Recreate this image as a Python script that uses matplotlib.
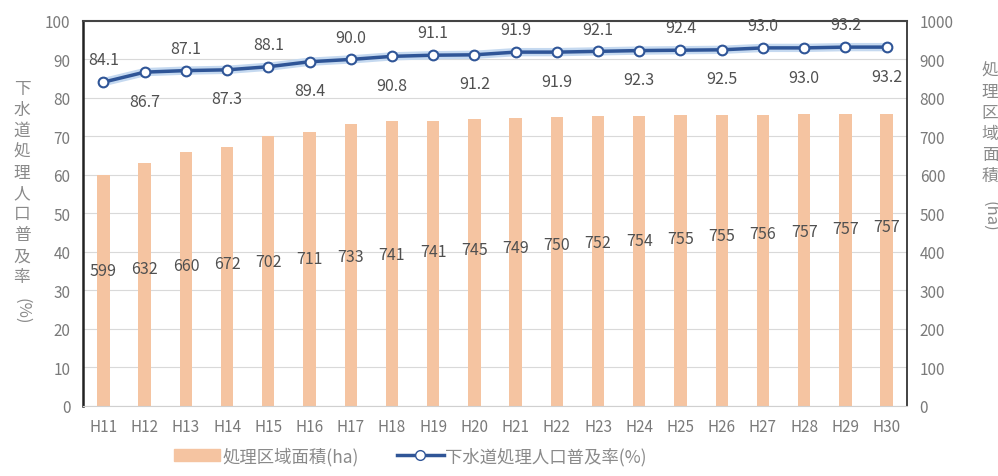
import matplotlib.pyplot as plt
import numpy as np
from matplotlib.patches import Patch
from matplotlib.lines import Line2D

plt.rcParams['font.family'] = ['Noto Sans CJK JP', 'DejaVu Sans']

# ── Data ──────────────────────────────────────────────
years = ["H11", "H12", "H13", "H14", "H15", "H16", "H17", "H18", "H19", "H20",
         "H21", "H22", "H23", "H24", "H25", "H26", "H27", "H28", "H29", "H30"]
area_ha = [599, 632, 660, 672, 702, 711, 733, 741, 741, 745,
           749, 750, 752, 754, 755, 755, 756, 757, 757, 757]
rate_pct = [84.1, 86.7, 87.1, 87.3, 88.1, 89.4, 90.0, 90.8, 91.1, 91.2,
            91.9, 91.9, 92.1, 92.3, 92.4, 92.5, 93.0, 93.0, 93.2, 93.2]

TEXT = "#505050"
TICK = "#7A7A7A"
TITLE = "#8A8A8A"
BAR = "#F5C4A1"
LINE = "#2F5597"

fig = plt.figure(figsize=(9.98, 4.77), dpi=100)
ax = fig.add_axes([0.083, 0.147, 0.826, 0.807])
ax2 = ax.twinx()

x = np.arange(len(years))

# bars on the right axis (area); labels drift upward across the years
ax2.bar(x, area_ha, width=0.3, color=BAR, zorder=2)
for xi, v in zip(x, area_ha):
    ax2.text(xi, 352 + 6.0 * xi, str(v), ha="center", va="center",
             fontsize=11.5, color=TEXT, zorder=5)
ax2.set_ylim(0, 1000)
ax2.set_yticks(range(0, 1001, 100))

# line axis above the bars
ax.set_zorder(ax2.get_zorder() + 1)
ax.patch.set_visible(False)

ax.plot(x, rate_pct, color="#C5D9F0", linewidth=6, zorder=3, solid_capstyle="round")
ax.plot(x, rate_pct, color=LINE, linewidth=2.5, marker="o", markersize=7,
        markerfacecolor="white", markeredgecolor=LINE, markeredgewidth=1.5, zorder=4)
for i, (xi, v) in enumerate(zip(x, rate_pct)):
    off = 16 if i % 2 == 0 else -21
    ax.annotate(f"{v:.1f}", (xi, v), xytext=(0, off), textcoords="offset points",
                ha="center", va="center", fontsize=11.5, color=TEXT)

ax.set_ylim(0, 100)
ax.set_yticks(range(0, 101, 10))
ax.set_xlim(-0.5, len(years) - 0.5)
ax.set_xticks(x)
ax.set_xticklabels(years)

# grid on the bar axis so it stays behind the bars
ax2.grid(axis="y", color="#D9D9D9", linewidth=0.8, zorder=0)
ax2.set_axisbelow(True)

for a in (ax, ax2):
    a.tick_params(length=0, labelsize=11, labelcolor=TICK, pad=9)
    for s in a.spines.values():
        s.set_visible(False)
ax.spines["left"].set_visible(True)
ax.spines["left"].set_linewidth(1.8)
ax.spines["left"].set_color("#222222")
ax2.spines["right"].set_visible(True)
ax2.spines["right"].set_linewidth(1.2)
ax2.spines["right"].set_color("#222222")
ax.spines["top"].set_visible(True)
ax.spines["top"].set_linewidth(1.5)
ax.spines["top"].set_color("#444444")
ax.spines["bottom"].set_visible(True)
ax.spines["bottom"].set_color("#D0D0D0")

# vertical axis titles: stacked kanji plus a rotated unit
fig.text(0.022, 0.83, "\n".join("下水道処理人口普及率"), ha="center", va="top",
         fontsize=12, color=TITLE, linespacing=1.3)
fig.text(0.022, 0.375, "(%)", ha="center", va="top", rotation=270,
         fontsize=12, color=TITLE)
fig.text(0.992, 0.868, "\n".join("処理区域面積"), ha="center", va="top",
         fontsize=12, color=TITLE, linespacing=1.3)
fig.text(0.992, 0.578, "(ha)", ha="center", va="top", rotation=270,
         fontsize=12, color=TITLE)

# legend below the plot
handles = [Patch(color=BAR, label="処理区域面積(ha)"),
           Line2D([], [], color=LINE, linewidth=2.5, marker="o", markersize=7,
                  markerfacecolor="white", markeredgecolor=LINE,
                  label="下水道処理人口普及率(%)")]
fig.legend(handles=handles, loc="lower center", bbox_to_anchor=(0.411, -0.01),
           ncol=2, frameon=False, fontsize=12.5, labelcolor=TITLE,
           handlelength=2.7, handleheight=0.7, columnspacing=2.2, handletextpad=0.1)

plt.savefig("out.png", dpi=100)
